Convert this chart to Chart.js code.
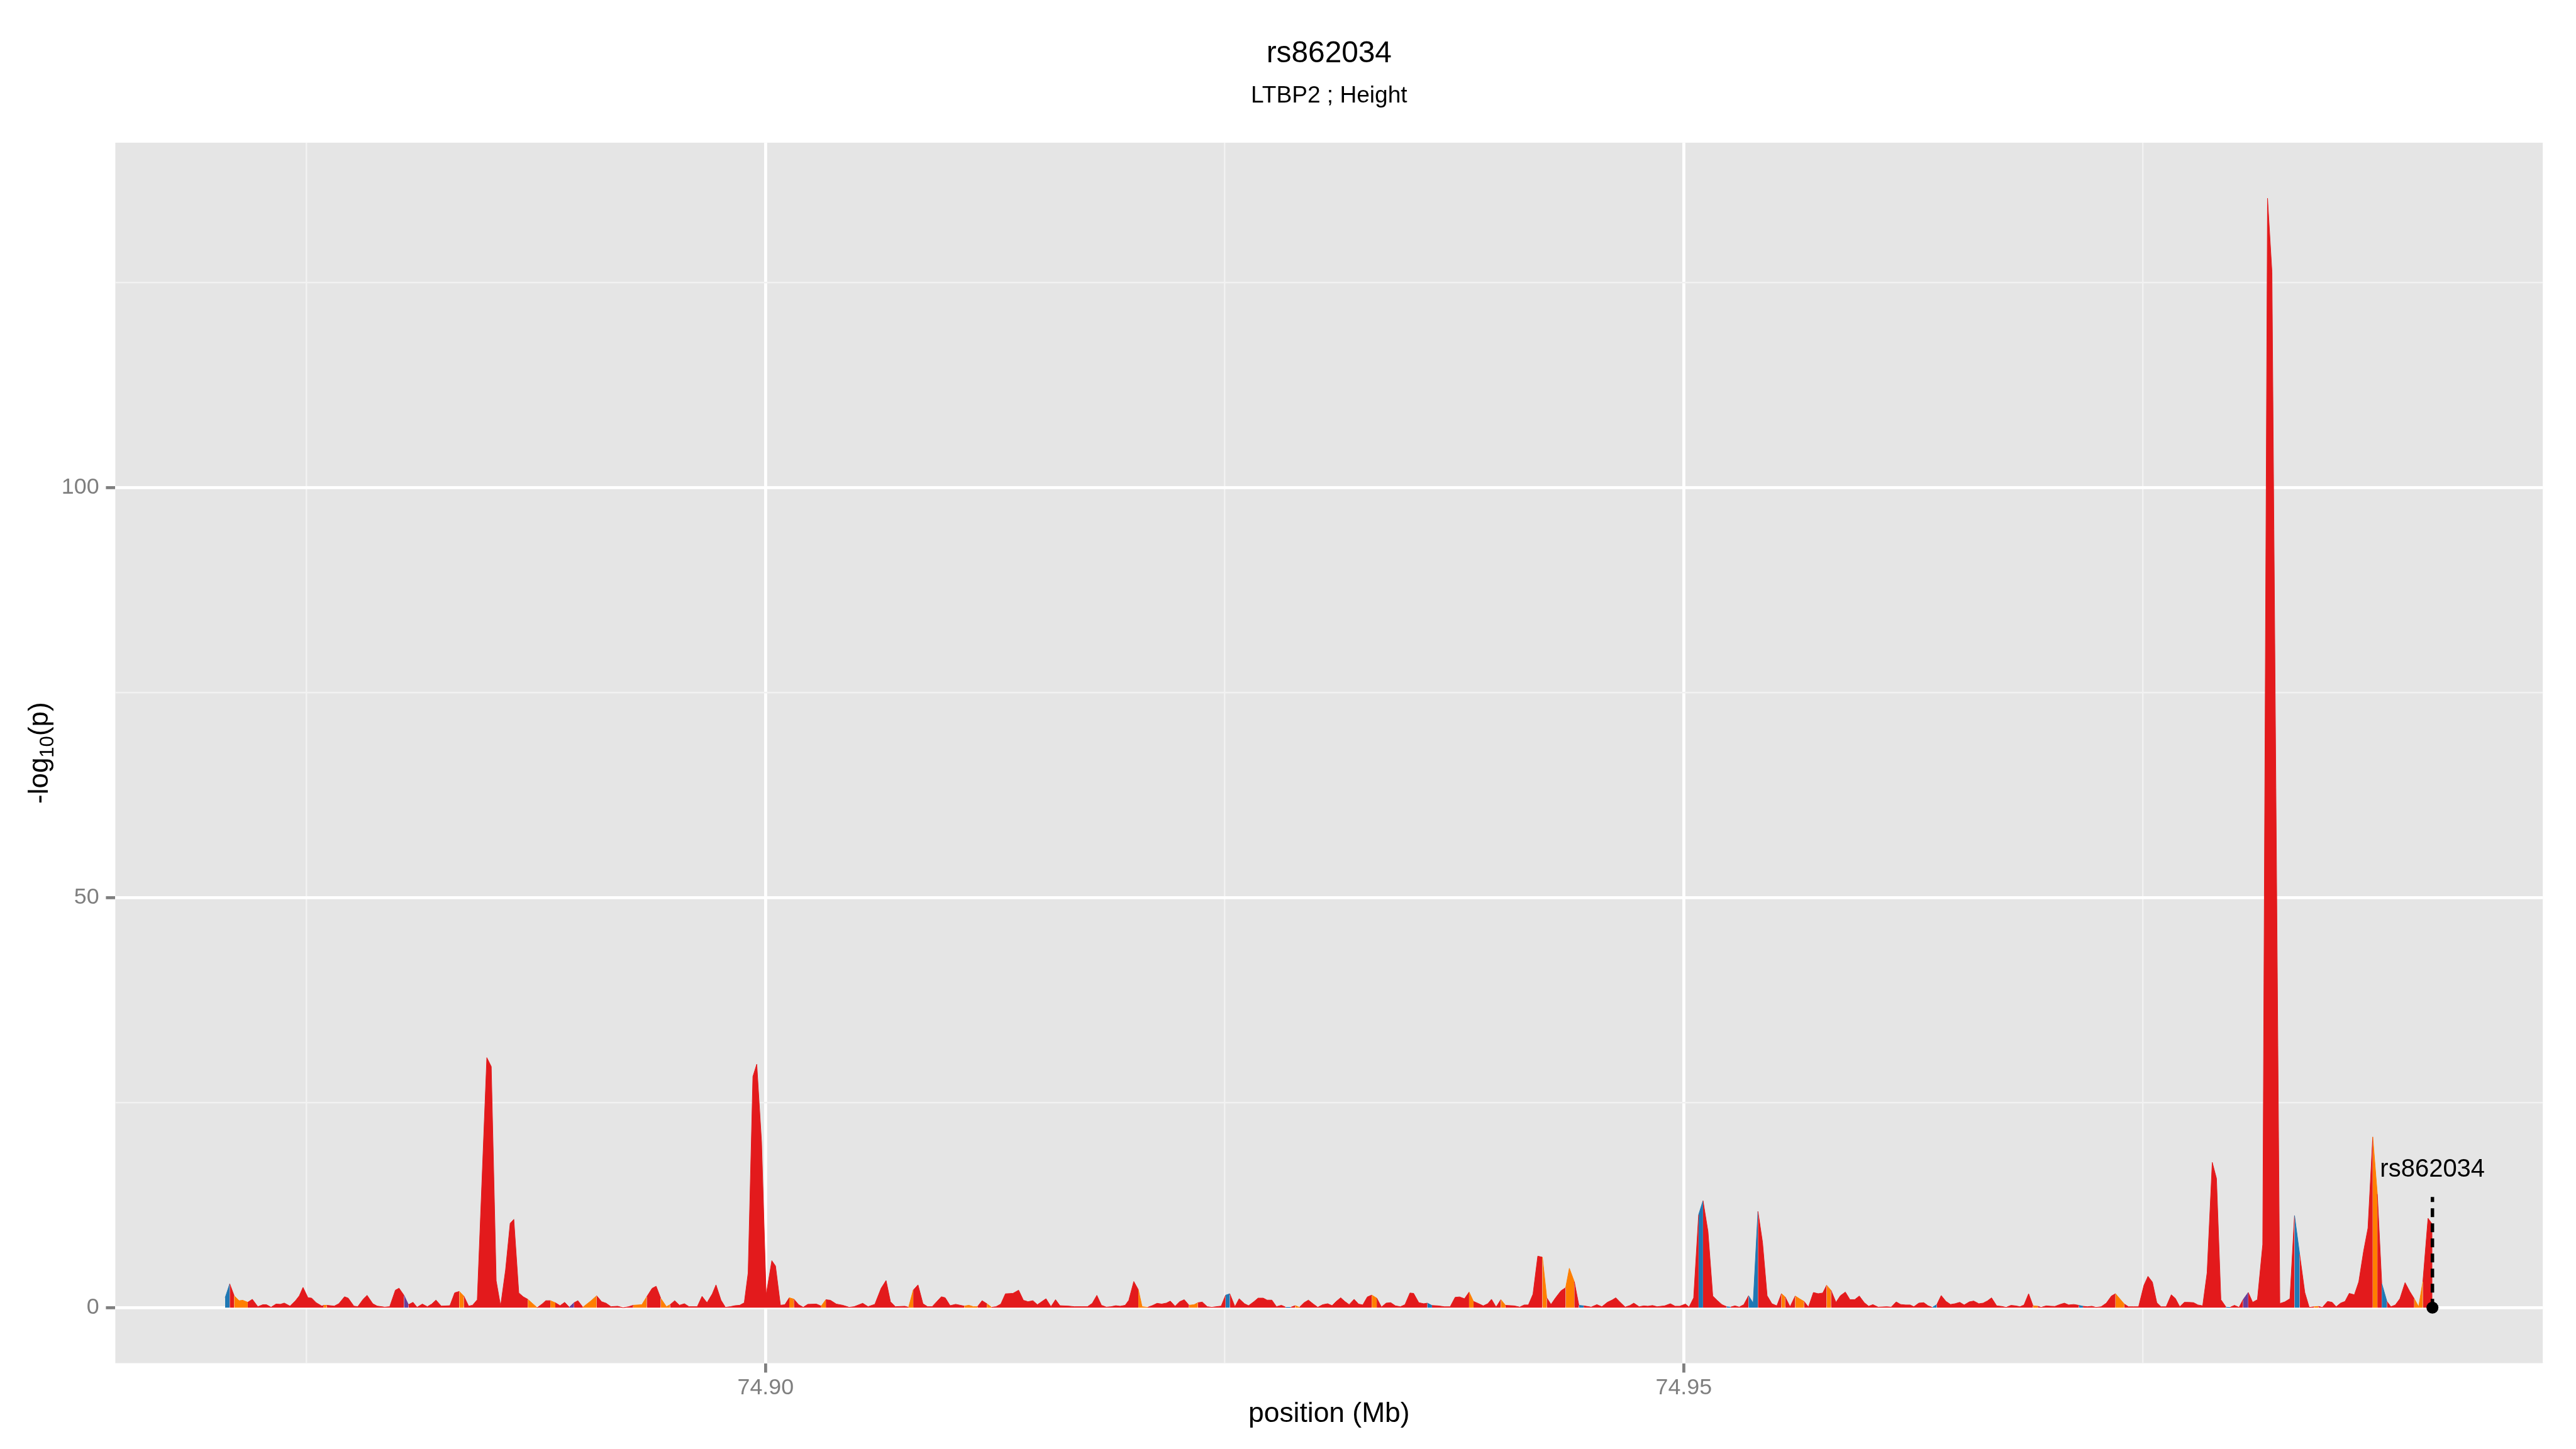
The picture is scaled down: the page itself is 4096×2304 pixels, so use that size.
<!DOCTYPE html>
<html>
<head>
<meta charset="utf-8">
<title>rs862034</title>
<script src="https://cdn.jsdelivr.net/npm/chart.js@4.4.1/dist/chart.umd.min.js"></script>
<style>
  html, body { margin: 0; padding: 0; background: #fff; }
  canvas { display: block; }
</style>
</head>
<body>
<canvas id="regional" width="4096" height="2304"></canvas>
<script>
// SNP positions (Mb) around LTBP2
var positions = [
  74.87057, 74.87082, 74.87106, 74.87133, 74.87153, 74.87180, 74.87205, 74.87235, 74.87262, 74.87282,
  74.87307, 74.87334, 74.87358, 74.87379, 74.87410, 74.87440, 74.87461, 74.87481, 74.87508, 74.87528,
  74.87553, 74.87584, 74.87594, 74.87610, 74.87651, 74.87676, 74.87707, 74.87727, 74.87758, 74.87779,
  74.87809, 74.87830, 74.87861, 74.87885, 74.87926, 74.87953, 74.87984, 74.88004, 74.88031, 74.88055,
  74.88080, 74.88102, 74.88131, 74.88158, 74.88182, 74.88205, 74.88234, 74.88281, 74.88307, 74.88332,
  74.88357, 74.88383, 74.88404, 74.88430, 74.88482, 74.88506, 74.88533, 74.88557, 74.88584, 74.88609,
  74.88629, 74.88656, 74.88680, 74.88705, 74.88732, 74.88756, 74.88783, 74.88803, 74.88828, 74.88855,
  74.88881, 74.88906, 74.88931, 74.88957, 74.88978, 74.89005, 74.89050, 74.89080, 74.89107, 74.89132,
  74.89158, 74.89194, 74.89224, 74.89255, 74.89279, 74.89326, 74.89353, 74.89382, 74.89404, 74.89429,
  74.89460, 74.89480, 74.89505, 74.89531, 74.89558, 74.89583, 74.89628, 74.89654, 74.89681, 74.89710,
  74.89730, 74.89757, 74.89781, 74.89808, 74.89833, 74.89859, 74.89884, 74.89905, 74.89931, 74.89952,
  74.89978, 74.90003, 74.90034, 74.90054, 74.90081, 74.90105, 74.90129, 74.90154, 74.90180, 74.90205,
  74.90230, 74.90277, 74.90303, 74.90328, 74.90353, 74.90385, 74.90420, 74.90455, 74.90482, 74.90529,
  74.90558, 74.90595, 74.90629, 74.90656, 74.90680, 74.90707, 74.90758, 74.90779, 74.90804, 74.90830,
  74.90857, 74.90882, 74.90907, 74.90957, 74.90978, 74.91005, 74.91035, 74.91082, 74.91107, 74.91131,
  74.91154, 74.91179, 74.91205, 74.91230, 74.91255, 74.91281, 74.91306, 74.91347, 74.91378, 74.91404,
  74.91429, 74.91456, 74.91480, 74.91527, 74.91554, 74.91579, 74.91603, 74.91650, 74.91681, 74.91722,
  74.91753, 74.91779, 74.91804, 74.91829, 74.91855, 74.91882, 74.91907, 74.91931, 74.91958, 74.91978,
  74.92005, 74.92030, 74.92050, 74.92081, 74.92105, 74.92132, 74.92157, 74.92183, 74.92204, 74.92230,
  74.92255, 74.92280, 74.92306, 74.92333, 74.92354, 74.92378, 74.92405, 74.92430, 74.92454, 74.92481,
  74.92505, 74.92528, 74.92556, 74.92579, 74.92608, 74.92630, 74.92659, 74.92682, 74.92710, 74.92731,
  74.92757, 74.92782, 74.92809, 74.92833, 74.92860, 74.92884, 74.92907, 74.92932, 74.92956, 74.92983,
  74.93007, 74.93034, 74.93061, 74.93085, 74.93106, 74.93132, 74.93154, 74.93178, 74.93205, 74.93229,
  74.93252, 74.93277, 74.93301, 74.93328, 74.93354, 74.93379, 74.93404, 74.93430, 74.93457, 74.93482,
  74.93509, 74.93529, 74.93557, 74.93584, 74.93604, 74.93629, 74.93662, 74.93697, 74.93728, 74.93755,
  74.93779, 74.93806, 74.93831, 74.93855, 74.93882, 74.93908, 74.93933, 74.93953, 74.93978, 74.94004,
  74.94029, 74.94076, 74.94107, 74.94131, 74.94154, 74.94179, 74.94205, 74.94230, 74.94254, 74.94277,
  74.94302, 74.94332, 74.94357, 74.94377, 74.94404, 74.94429, 74.94455, 74.94496, 74.94527, 74.94554,
  74.94584, 74.94609, 74.94630, 74.94654, 74.94681, 74.94707, 74.94728, 74.94757, 74.94783, 74.94804,
  74.94830, 74.94855, 74.94896, 74.94927, 74.94953, 74.94978, 74.95009, 74.95029, 74.95054, 74.95081,
  74.95105, 74.95132, 74.95158, 74.95183, 74.95208, 74.95234, 74.95255, 74.95279, 74.95302, 74.95327,
  74.95353, 74.95378, 74.95404, 74.95429, 74.95454, 74.95480, 74.95507, 74.95532, 74.95552, 74.95579,
  74.95607, 74.95630, 74.95655, 74.95679, 74.95706, 74.95732, 74.95757, 74.95778, 74.95802, 74.95829,
  74.95853, 74.95880, 74.95905, 74.95931, 74.95956, 74.95983, 74.96007, 74.96030, 74.96058, 74.96106,
  74.96130, 74.96157, 74.96181, 74.96208, 74.96233, 74.96253, 74.96280, 74.96307, 74.96331, 74.96354,
  74.96378, 74.96402, 74.96428, 74.96453, 74.96477, 74.96503, 74.96527, 74.96555, 74.96579, 74.96607,
  74.96630, 74.96654, 74.96676, 74.96704, 74.96732, 74.96756, 74.96782, 74.96807, 74.96831, 74.96853,
  74.96878, 74.96902, 74.96928, 74.96946, 74.96974, 74.96999, 74.97021, 74.97049, 74.97073, 74.97096,
  74.97124, 74.97152, 74.97174, 74.97198, 74.97222, 74.97245, 74.97273, 74.97301, 74.97329, 74.97351,
  74.97399, 74.97422, 74.97450, 74.97477, 74.97506, 74.97528, 74.97552, 74.97576, 74.97599, 74.97627,
  74.97655, 74.97677, 74.97701, 74.97726, 74.97748, 74.97776, 74.97800, 74.97826, 74.97850, 74.97878,
  74.97901, 74.97925, 74.97953, 74.97975, 74.97999, 74.98024, 74.98046, 74.98074, 74.98098, 74.98124,
  74.98153, 74.98179, 74.98203, 74.98246, 74.98273, 74.98301, 74.98326, 74.98354, 74.98382, 74.98406,
  74.98432, 74.98456, 74.98478, 74.98506, 74.98531, 74.98553, 74.98577, 74.98601, 74.98624, 74.98652,
  74.98676, 74.98702, 74.98726, 74.98752, 74.98777, 74.98801, 74.98829, 74.98851, 74.98875, 74.98900,
  74.98928, 74.98954, 74.98978, 74.99002, 74.99025, 74.99053, 74.99077
];

// -log10(p) at each position
var logP = [
  1.21, 2.90, 1.45, 0.85, 0.90, 0.65, 1.02, 0.12, 0.36, 0.36,
  0.05, 0.44, 0.41, 0.56, 0.19, 0.85, 1.45, 2.47, 1.21, 1.16,
  0.60, 0.19, 0.29, 0.29, 0.19, 0.48, 1.33, 1.16, 0.19, 0.12,
  1.04, 1.50, 0.48, 0.19, 0.07, 0.12, 2.13, 2.37, 1.50, 0.36,
  0.65, 0.05, 0.44, 0.12, 0.44, 0.92, 0.19, 0.24, 1.81, 1.98,
  1.40, 0.19, 0.29, 0.97, 30.49, 29.40, 3.27, 0.19, 4.60, 10.28,
  10.77, 1.81, 1.33, 1.02, 0.48, 0.00, 0.44, 0.85, 0.85, 0.60,
  0.24, 0.65, 0.05, 0.60, 0.85, 0.05, 0.85, 1.45, 0.73, 0.53,
  0.12, 0.17, 0.00, 0.12, 0.29, 0.36, 1.33, 2.35, 2.61, 1.14,
  0.12, 0.36, 0.85, 0.29, 0.48, 0.12, 0.12, 1.38, 0.60, 1.69,
  2.78, 0.92, 0.05, 0.12, 0.24, 0.29, 0.60, 4.23, 28.19, 29.69,
  20.20, 1.57, 5.73, 5.08, 0.29, 0.36, 1.21, 1.04, 0.36, 0.05,
  0.41, 0.44, 0.19, 0.97, 0.90, 0.44, 0.29, 0.05, 0.12, 0.53,
  0.12, 0.41, 2.35, 3.31, 0.73, 0.12, 0.17, 0.05, 2.13, 2.78,
  0.48, 0.12, 0.12, 1.33, 1.21, 0.24, 0.41, 0.19, 0.29, 0.12,
  0.12, 0.85, 0.48, 0.05, 0.12, 0.44, 1.69, 1.74, 2.13, 0.90,
  0.73, 0.85, 0.36, 1.09, 0.12, 0.97, 0.24, 0.19, 0.12, 0.12,
  0.12, 0.53, 1.50, 0.29, 0.07, 0.12, 0.24, 0.17, 0.29, 0.90,
  3.19, 2.18, 0.12, 0.05, 0.24, 0.53, 0.44, 0.56, 0.80, 0.17,
  0.73, 0.97, 0.29, 0.36, 0.60, 0.68, 0.12, 0.05, 0.12, 0.19,
  1.52, 1.69, 0.12, 1.09, 0.48, 0.24, 0.73, 1.16, 1.16, 0.92,
  0.92, 0.12, 0.29, 0.05, 0.05, 0.24, 0.05, 0.60, 0.92, 0.44,
  0.05, 0.36, 0.48, 0.24, 0.73, 1.21, 0.76, 0.37, 1.02, 0.44,
  0.33, 1.31, 1.53, 1.16, 0.07, 0.55, 0.61, 0.22, 0.11, 0.37,
  1.79, 1.74, 0.61, 0.48, 0.55, 0.26, 0.22, 0.11, 0.11, 1.26,
  1.31, 1.09, 1.90, 0.76, 0.50, 0.22, 0.48, 1.02, 0.07, 0.98,
  0.28, 0.22, 0.07, 0.33, 0.33, 1.64, 6.28, 6.15, 1.20, 0.39,
  1.20, 2.07, 2.44, 4.80, 3.16, 0.28, 0.22, 0.07, 0.37, 0.11,
  0.65, 0.92, 1.20, 0.65, 0.07, 0.26, 0.55, 0.11, 0.22, 0.17,
  0.26, 0.11, 0.22, 0.48, 0.17, 0.17, 0.44, 0.07, 1.20, 11.34,
  13.04, 9.27, 1.42, 0.87, 0.37, 0.11, 0.07, 0.22, 0.07, 0.37,
  1.46, 0.55, 11.73, 7.96, 1.46, 0.48, 0.22, 1.70, 1.31, 0.11,
  1.42, 1.09, 0.76, 0.07, 1.85, 1.70, 1.79, 2.73, 2.11, 0.65,
  1.46, 1.90, 0.98, 0.98, 1.42, 0.61, 0.17, 0.37, 0.07, 0.11,
  0.07, 0.70, 0.39, 0.33, 0.33, 0.11, 0.55, 0.61, 0.22, 0.04,
  0.37, 1.48, 0.76, 0.39, 0.48, 0.65, 0.33, 0.70, 0.81, 0.48,
  0.55, 0.83, 1.20, 0.22, 0.15, 0.04, 0.28, 0.22, 0.11, 0.33,
  1.70, 0.22, 0.17, 0.04, 0.22, 0.17, 0.15, 0.39, 0.55, 0.33,
  0.39, 0.28, 0.17, 0.11, 0.17, 0.04, 0.11, 0.55, 1.42, 1.70,
  0.44, 0.11, 0.11, 0.11, 2.73, 3.82, 3.12, 0.61, 0.11, 0.11,
  1.57, 1.13, 0.11, 0.65, 0.65, 0.61, 0.33, 0.22, 4.25, 17.72,
  15.76, 0.98, 0.07, 0.04, 0.28, 0.04, 0.98, 1.85, 0.65, 0.98,
  7.70, 135.30, 126.30, 0.50, 0.70, 1.09, 11.23, 6.50, 1.85, 0.04,
  0.11, 0.15, 0.04, 0.76, 0.65, 0.11, 0.55, 0.76, 1.74, 1.57,
  3.16, 6.87, 9.70, 20.82, 13.84, 2.94, 0.76, 0.11, 0.33, 1.09,
  3.05, 1.96, 1.09, 0.11, 3.16, 10.90, 10.14
];

// SNPs in the lower LD groups; every other SNP is in the top (red) group
var ldOrange = [
  74.87106, 74.87133, 74.87153, 74.87594, 74.88332, 74.88705, 74.88732, 74.88828, 74.89005, 74.89050,
  74.89279, 74.89326, 74.89429, 74.89460, 74.90129, 74.90303, 74.90779, 74.91082, 74.91107, 74.91131,
  74.91205, 74.92030, 74.92050, 74.92306, 74.92333, 74.92884, 74.93301, 74.93831, 74.94004, 74.94230,
  74.94357, 74.94377, 74.95532, 74.95607, 74.95630, 74.95778, 74.96902, 74.97351, 74.98432, 74.98752,
  74.98978, 74.99002
];
var ldBlue = [
  74.87057, 74.92505, 74.92833, 74.93604, 74.94429, 74.95081, 74.95234, 74.95353, 74.95378, 74.96354,
  74.97152, 74.97953, 74.98326, 74.98801
];
var ldPurple = [74.88031, 74.88931, 74.98046];

// index SNP
var leadSnp = 'rs862034';
var leadPos = 74.99077;
var leadLineTop = 13.5;
var leadLabelY = 16.8;

var xTickValues = [74.875, 74.90, 74.925, 74.95, 74.975];
var xTickLabels = ['', '74.90', '', '74.95', ''];
var yTickValues = [0, 25, 50, 75, 100, 125];
var yTickLabels = ['0', '', '50', '', '100', ''];

var FONT = "'Liberation Sans', Arial, Helvetica, sans-serif";
var colours = { red: '#E31A1C', orange: '#FF7F00', blue: '#1F78B4', purple: '#6A3D9A' };

function ldGroup(pos) {
    if (ldOrange.indexOf(pos) >= 0) return 'orange';
    if (ldBlue.indexOf(pos) >= 0) return 'blue';
    if (ldPurple.indexOf(pos) >= 0) return 'purple';
    return 'red';
}
var groups = positions.map(ldGroup);

function segColour(ctx) {
    return colours[groups[ctx.p0DataIndex]];
}

function isMajor(values, labels, v) {
    var i = values.indexOf(v);
    return i >= 0 && labels[i] !== '';
}

var panelPlugin = {
    id: 'panel',
    beforeDraw: function (chart) {
        var ctx = chart.ctx, a = chart.chartArea;
        ctx.save();
        ctx.fillStyle = '#FFFFFF';
        ctx.fillRect(0, 0, chart.width, chart.height);
        ctx.fillStyle = '#E5E5E5';
        ctx.fillRect(a.left, a.top, a.right - a.left, a.bottom - a.top);
        ctx.restore();
    }
};

var labelsPlugin = {
    id: 'labels',
    afterDatasetsDraw: function (chart) {
        var ctx = chart.ctx;
        var x = chart.scales.x.getPixelForValue(leadPos);
        var y = chart.scales.y.getPixelForValue(leadLabelY);
        ctx.save();
        ctx.font = '40px ' + FONT;
        ctx.fillStyle = '#000';
        ctx.textAlign = 'center';
        ctx.textBaseline = 'middle';
        ctx.fillText(leadSnp, x, y);
        ctx.restore();
    },
    afterDraw: function (chart) {
        // y axis title with subscript, like plotmath -log[10](p)
        var ctx = chart.ctx, a = chart.chartArea;
        var big = '44px ' + FONT, small = '31px ' + FONT;
        ctx.save();
        ctx.font = big;
        var w1 = ctx.measureText('-log').width;
        var w3 = ctx.measureText('(p)').width;
        ctx.font = small;
        var w2 = ctx.measureText('10').width;
        ctx.translate(75.5, (a.top + a.bottom) / 2);
        ctx.rotate(-Math.PI / 2);
        ctx.fillStyle = '#000';
        ctx.textAlign = 'left';
        ctx.textBaseline = 'alphabetic';
        var x = -(w1 + w2 + w3) / 2;
        ctx.font = big;
        ctx.fillText('-log', x, 0);
        x += w1;
        ctx.font = small;
        ctx.fillText('10', x, 9);
        x += w2;
        ctx.font = big;
        ctx.fillText('(p)', x, 0);
        ctx.restore();
    }
};

var chart = new Chart(document.getElementById('regional'), {
    type: 'line',
    data: {
        datasets: [
            {
                data: [{ x: leadPos, y: 0 }, { x: leadPos, y: leadLineTop }],
                borderColor: '#000',
                borderWidth: 5.5,
                borderDash: [14, 10],
                borderCapStyle: 'butt',
                pointRadius: [9.5, 0],
                pointBackgroundColor: '#000',
                pointBorderWidth: 0,
                fill: false,
                order: 0
            },
            {
                data: positions.map(function (p, i) { return { x: p, y: logP[i] }; }),
                backgroundColor: colours.red,
                borderColor: colours.red,
                borderWidth: 1,
                pointRadius: 0,
                tension: 0,
                fill: 'origin',
                order: 1,
                segment: {
                    backgroundColor: segColour,
                    borderColor: segColour
                }
            }
        ]
    },
    options: {
        responsive: false,
        devicePixelRatio: 1,
        animation: false,
        events: [],
        layout: { padding: { left: 0, right: 52.8, top: 0, bottom: 0 } },
        plugins: {
            legend: { display: false },
            tooltip: { enabled: false },
            title: {
                display: true,
                text: 'rs862034',
                fullSize: false,
                color: '#000',
                font: { family: FONT, size: 47.8, weight: 'normal', lineHeight: 1.2 },
                padding: { top: 57.0, bottom: 0 }
            },
            subtitle: {
                display: true,
                text: 'LTBP2 ; Height',
                fullSize: false,
                color: '#000',
                font: { family: FONT, size: 37.1, weight: 'normal', lineHeight: 1.2 },
                padding: { top: 15.8, bottom: 52.2 }
            }
        },
        scales: {
            x: {
                type: 'linear',
                min: 74.86459,
                max: 74.99678,
                afterBuildTicks: function (s) {
                    s.ticks = xTickValues.map(function (v) { return { value: v }; });
                },
                afterFit: function (s) { s.height = 136.5; },
                border: { display: false },
                grid: {
                    color: function (c) { return c.tick && isMajor(xTickValues, xTickLabels, c.tick.value) ? '#FFFFFF' : '#F2F2F2'; },
                    lineWidth: function (c) { return c.tick && isMajor(xTickValues, xTickLabels, c.tick.value) ? 4.8 : 2.4; },
                    tickColor: function (c) { return c.tick && isMajor(xTickValues, xTickLabels, c.tick.value) ? '#7F7F7F' : 'rgba(0,0,0,0)'; },
                    tickWidth: 4.8,
                    tickLength: 15
                },
                ticks: {
                    autoSkip: false,
                    maxRotation: 0,
                    padding: 3.1,
                    color: '#7F7F7F',
                    font: { family: FONT, size: 35.8, lineHeight: 1.2 },
                    callback: function (v, i) { return xTickLabels[i]; }
                },
                title: {
                    display: true,
                    text: 'position (Mb)',
                    color: '#000',
                    font: { family: FONT, size: 44.4, lineHeight: 1.2 },
                    padding: { top: 0, bottom: 28.9 }
                }
            },
            y: {
                type: 'linear',
                min: -6.77,
                max: 142.07,
                afterBuildTicks: function (s) {
                    s.ticks = yTickValues.map(function (v) { return { value: v }; });
                },
                afterFit: function (s) { s.width = 183.4; },
                border: { display: false },
                grid: {
                    color: function (c) { return c.tick && isMajor(yTickValues, yTickLabels, c.tick.value) ? '#FFFFFF' : '#F2F2F2'; },
                    lineWidth: function (c) { return c.tick && isMajor(yTickValues, yTickLabels, c.tick.value) ? 4.8 : 2.4; },
                    tickColor: function (c) { return c.tick && isMajor(yTickValues, yTickLabels, c.tick.value) ? '#7F7F7F' : 'rgba(0,0,0,0)'; },
                    tickWidth: 4.8,
                    tickLength: 15
                },
                ticks: {
                    autoSkip: false,
                    padding: 10.8,
                    color: '#7F7F7F',
                    font: { family: FONT, size: 35.8, lineHeight: 1.2 },
                    callback: function (v, i) { return yTickLabels[i]; }
                }
            }
        }
    },
    plugins: [panelPlugin, labelsPlugin]
});
</script>
</body>
</html>
